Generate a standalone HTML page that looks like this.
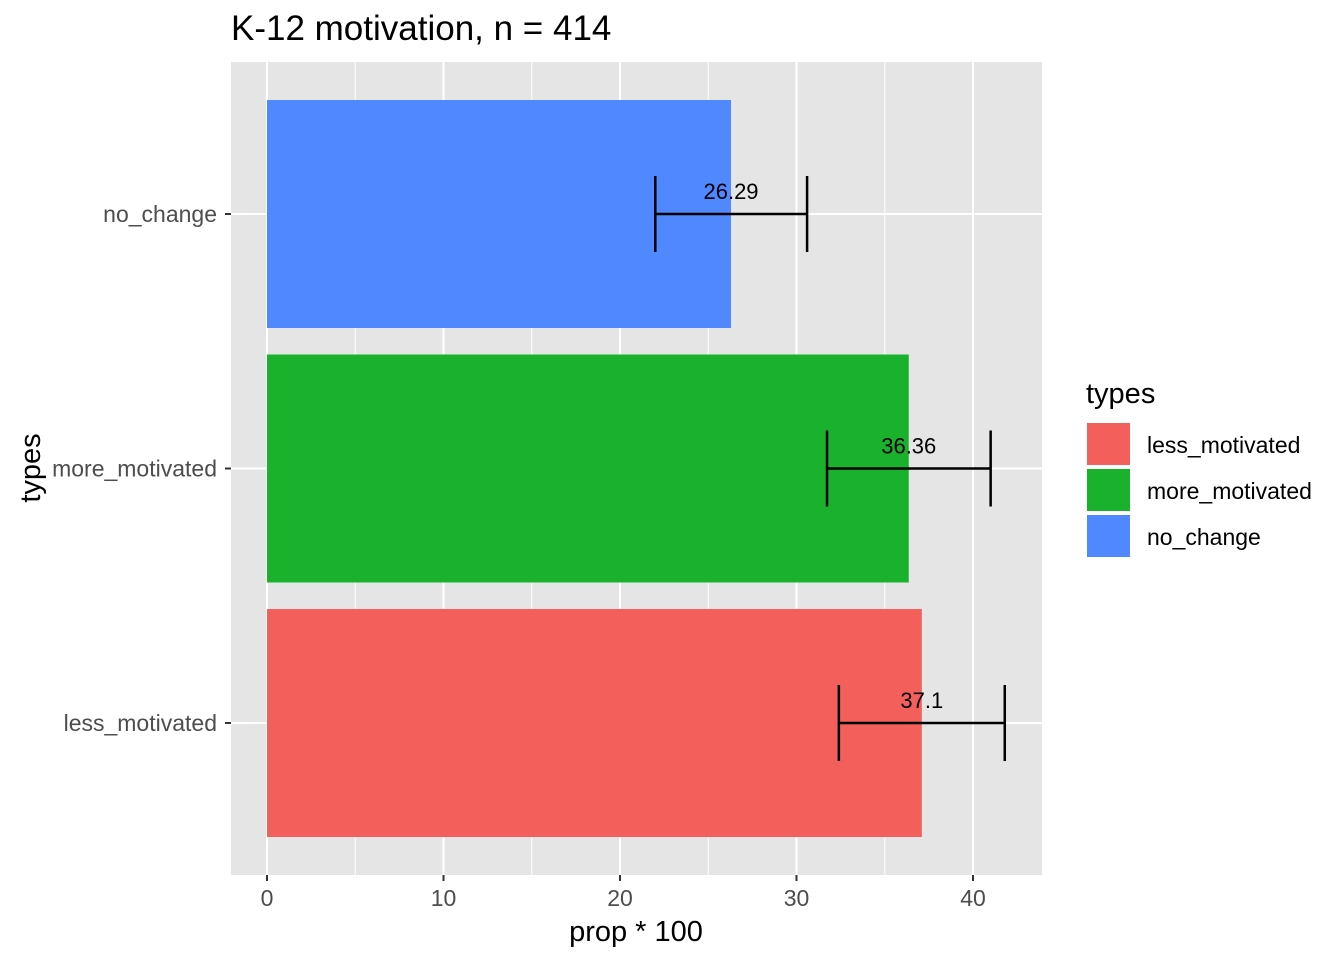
<!DOCTYPE html>
<html><head><meta charset="utf-8"><style>
body{margin:0;background:#fff;}
svg text{font-family:"Liberation Sans",Arial,sans-serif;}
</style></head><body>
<svg id="chart" width="1344" height="960" xmlns="http://www.w3.org/2000/svg">
<text x="231" y="40" font-size="35" fill="#000">K-12 motivation, n = 414</text>
<rect x="231" y="62" width="811" height="813" fill="#e5e5e5"/>
<g id="grid"></g>
<g id="bars"></g>
<g id="axes"></g>
<text x="636" y="941" font-size="29" text-anchor="middle">prop * 100</text>
<text transform="translate(40,468) rotate(-90)" font-size="29" text-anchor="middle">types</text>
<g>
<text x="1086" y="403" font-size="29">types</text>
<rect x="1087" y="423" width="43" height="42" fill="#F3605B"/>
<text x="1147" y="453" font-size="23">less_motivated</text>
<rect x="1087" y="469" width="43" height="42" fill="#1AB22D"/>
<text x="1147" y="499" font-size="23">more_motivated</text>
<rect x="1087" y="515" width="43" height="42" fill="#5088FF"/>
<text x="1147" y="545" font-size="23">no_change</text>
</g>
</svg>
<script>
const categories = ["less_motivated","more_motivated","no_change"];
const values = [37.1, 36.36, 26.29];
const lower = [32.4, 31.73, 22.0];
const upper = [41.8, 41.0, 30.6];
const labels = ["37.1","36.36","26.29"];
const colors = ["#F3605B","#1AB22D","#5088FF"];
const xTicks = [0,10,20,30,40];

const NS="http://www.w3.org/2000/svg";
const x = v => 267 + v*17.65;
const y = i => 723 - i*254.5;
function mk(tag, attrs, parent){const e=document.createElementNS(NS,tag);for(const k in attrs)e.setAttribute(k,attrs[k]);document.getElementById(parent).appendChild(e);return e;}

for(let i=0;i<xTicks.length-1;i++){
  const g=mk('line',{x1:x(xTicks[i]+5),x2:x(xTicks[i]+5),y1:62,y2:875,stroke:'#fff','stroke-width':1},'grid');
  
  
}
xTicks.forEach(t=>{
  const g=mk('line',{x1:x(t),x2:x(t),y1:62,y2:875,stroke:'#fff','stroke-width':2},'grid');
  
  
  const tk=mk('line',{x1:x(t),x2:x(t),y1:875,y2:881,stroke:'#333','stroke-width':2},'axes');
  
  
  const tl=mk('text',{x:x(t),y:906,'font-size':23,'text-anchor':'middle',fill:'#4d4d4d'},'axes');
  tl.textContent=t;
  
  
});
categories.forEach((c,i)=>{
  const g=mk('line',{x1:231,x2:1042,y1:y(i),y2:y(i),stroke:'#fff','stroke-width':2},'grid');
  
  
  const b=mk('rect',{x:x(0),y:y(i)-114,width:x(values[i])-x(0),height:228,fill:colors[i]},'bars');
  
  
  const e=mk('path',{d:`M${x(lower[i])},${y(i)}H${x(upper[i])}M${x(lower[i])},${y(i)-38}V${y(i)+38}M${x(upper[i])},${y(i)-38}V${y(i)+38}`,stroke:'#000','stroke-width':2.5,fill:'none'},'bars');
  
  
  const l=mk('text',{x:x(values[i]),y:y(i)-15,'font-size':22,'text-anchor':'middle',fill:'#000'},'bars');
  l.textContent=labels[i];
  
  
  const tk=mk('line',{x1:225,x2:231,y1:y(i),y2:y(i),stroke:'#333','stroke-width':2},'axes');
  
  
  const tl=mk('text',{x:217,y:y(i)+8,'font-size':23,'text-anchor':'end',fill:'#4d4d4d'},'axes');
  tl.textContent=c;
  
  
});
</script>
</body></html>
